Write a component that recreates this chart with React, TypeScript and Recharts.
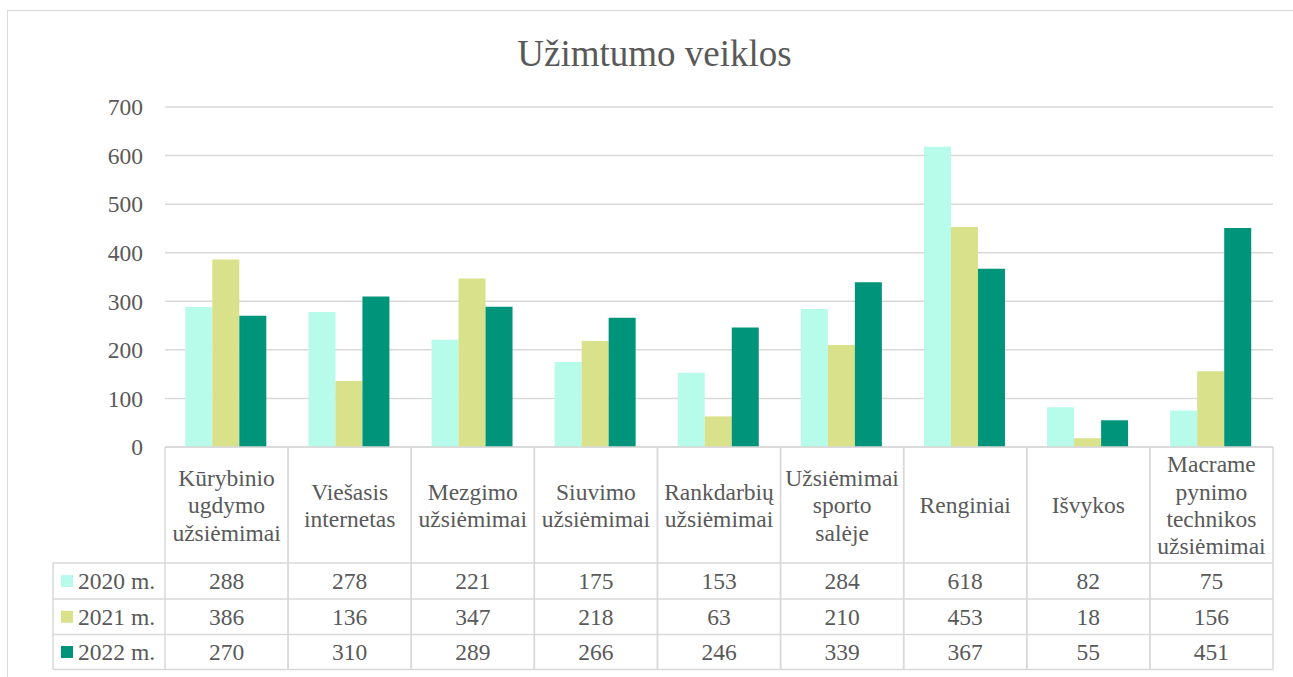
import React from 'react';
import { BarChart, Bar, XAxis, YAxis, CartesianGrid } from 'recharts';

const categories = [
  'Kūrybinio\nugdymo\nužsiėmimai',
  'Viešasis\ninternetas',
  'Mezgimo\nužsiėmimai',
  'Siuvimo\nužsiėmimai',
  'Rankdarbių\nužsiėmimai',
  'Užsiėmimai\nsporto\nsalėje',
  'Renginiai',
  'Išvykos',
  'Macrame\npynimo\ntechnikos\nužsiėmimai',
];
const values2020 = [288, 278, 221, 175, 153, 284, 618, 82, 75];
const values2021 = [386, 136, 347, 218, 63, 210, 453, 18, 156];
const values2022 = [270, 310, 289, 266, 246, 339, 367, 55, 451];
const seriesNames = ['2020 m.', '2021 m.', '2022 m.'];
const yTicks = [0, 100, 200, 300, 400, 500, 600, 700];
const title = 'Užimtumo veiklos';

const COLORS = ['#B7FBEB', '#D9E18A', '#00957A'];
const FONT = '"Liberation Serif", "Times New Roman", Times, serif';
const TEXT = '#595959';
const LINE = '#D9D9D9';

const W = 1293;
const H = 677;
const PLOT_LEFT = 165;
const PLOT_RIGHT = 1273;
const PLOT_TOP = 107;
const PLOT_BOTTOM = 447;
const HEADER_CENTER = 505;
const LINE_H = 27.3;
const ROW_TOPS = [563, 599, 634.5, 669.5];
const LEGEND_LEFT = 53;
const FS = 23.5;
const textStyle = { fontFamily: FONT, fontSize: FS, fill: TEXT } as const;

const data = categories.map((c, i) => ({
  name: c,
  s2020: values2020[i],
  s2021: values2021[i],
  s2022: values2022[i],
}));
const seriesValues = [values2020, values2021, values2022];

const YTick = (props: any) => {
  const { x, y, payload } = props;
  return (
    <text x={x} y={y} dy="0.35em" textAnchor="end" style={textStyle}>
      {payload.value}
    </text>
  );
};

const TableTick = (props: any) => {
  const { x, index, payload } = props;
  const half = payload.offset;
  const lines = String(payload.value).split('\n');
  const n = lines.length;
  const left = x - half;
  const right = x + half;
  return (
    <g>
      {index === 0 && (
        <g>
          {ROW_TOPS.map((ry, k) => (
            <line key={'h' + k} x1={LEGEND_LEFT} x2={PLOT_RIGHT} y1={ry} y2={ry} stroke={LINE} strokeWidth={1.5} />
          ))}
          <line x1={PLOT_LEFT} x2={PLOT_RIGHT} y1={PLOT_BOTTOM} y2={PLOT_BOTTOM} stroke={LINE} strokeWidth={1.5} />
          <line x1={LEGEND_LEFT} x2={LEGEND_LEFT} y1={ROW_TOPS[0]} y2={ROW_TOPS[3]} stroke={LINE} strokeWidth={1.5} />
          {seriesNames.map((s, k) => {
            const cy = (ROW_TOPS[k] + ROW_TOPS[k + 1]) / 2;
            return (
              <g key={'lg' + k}>
                <rect x={61} y={cy - 6} width={12} height={12} fill={COLORS[k]} />
                <text x={78} y={cy} dy="0.35em" style={textStyle}>
                  {s}
                </text>
              </g>
            );
          })}
        </g>
      )}
      <line x1={left} x2={left} y1={PLOT_BOTTOM} y2={ROW_TOPS[3]} stroke={LINE} strokeWidth={1.5} />
      <line x1={right} x2={right} y1={PLOT_BOTTOM} y2={ROW_TOPS[3]} stroke={LINE} strokeWidth={1.5} />
      {lines.map((ln, k) => (
        <text
          key={'t' + k}
          x={x}
          y={HEADER_CENTER + (k - (n - 1) / 2) * LINE_H}
          dy="0.35em"
          textAnchor="middle"
          style={textStyle}
        >
          {ln}
        </text>
      ))}
      {seriesValues.map((vals, k) => (
        <text
          key={'v' + k}
          x={x}
          y={(ROW_TOPS[k] + ROW_TOPS[k + 1]) / 2}
          dy="0.35em"
          textAnchor="middle"
          style={textStyle}
        >
          {vals[index]}
        </text>
      ))}
    </g>
  );
};

export default function App() {
  return (
    <div style={{ position: 'absolute', left: 0, top: 0, width: W, height: H, overflow: 'hidden', background: '#fff', fontFamily: FONT }}>
      <div
        style={{
          position: 'absolute',
          left: 7,
          top: 10,
          width: W,
          height: H,
          border: `1.5px solid ${LINE}`,
          boxSizing: 'border-box',
        }}
      />
      <div
        style={{
          position: 'absolute',
          left: 0,
          top: 0,
          width: W,
          textAlign: 'center',
          fontFamily: FONT,
          fontSize: 37,
          color: TEXT,
          lineHeight: '37px',
          paddingTop: 35,
          paddingLeft: 16,
          boxSizing: 'border-box',
        }}
      >
        {title}
      </div>
      <div style={{ position: 'absolute', left: 0, top: 0 }}>
        <BarChart
          width={W}
          height={H}
          data={data}
          margin={{ top: PLOT_TOP, right: W - PLOT_RIGHT, bottom: 0, left: PLOT_LEFT - 80 }}
          barCategoryGap="16.5%"
          barGap={0}
          style={{ fontFamily: FONT }}
        >
          <CartesianGrid vertical={false} stroke={LINE} strokeWidth={1.5} />
          <XAxis
            dataKey="name"
            height={H - PLOT_BOTTOM}
            axisLine={false}
            tickLine={false}
            interval={0}
            tick={<TableTick />}
          />
          <YAxis
            width={80}
            domain={[0, 700]}
            ticks={yTicks}
            axisLine={false}
            tickLine={false}
            tickSize={6}
            tickMargin={16}
            tick={<YTick />}
          />
          <Bar dataKey="s2020" name={seriesNames[0]} fill={COLORS[0]} isAnimationActive={false} />
          <Bar dataKey="s2021" name={seriesNames[1]} fill={COLORS[1]} isAnimationActive={false} />
          <Bar dataKey="s2022" name={seriesNames[2]} fill={COLORS[2]} isAnimationActive={false} />
        </BarChart>
      </div>
    </div>
  );
}
